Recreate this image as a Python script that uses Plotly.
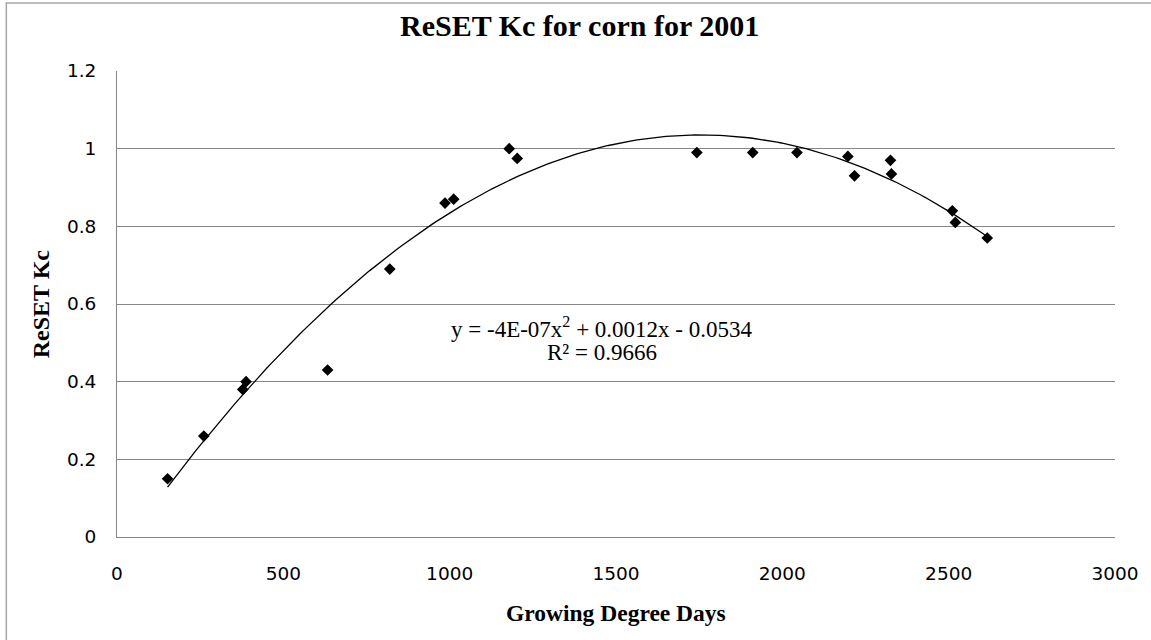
import numpy as np
import plotly.graph_objects as go

# Data
gdd = [152, 261, 378, 388, 633, 820, 986, 1012, 1179, 1203, 1743, 1911,
       2044, 2197, 2217, 2325, 2328, 2511, 2520, 2616]
kc = [0.15, 0.26, 0.38, 0.40, 0.43, 0.69, 0.86, 0.87, 1.00, 0.975, 0.99, 0.99,
      0.99, 0.98, 0.93, 0.97, 0.935, 0.84, 0.81, 0.77]

x_ticks = [0, 500, 1000, 1500, 2000, 2500, 3000]
y_ticks = [0, 0.2, 0.4, 0.6, 0.8, 1.0, 1.2]
y_tick_text = ["0", "0.2", "0.4", "0.6", "0.8", "1", "1.2"]

title_text = "ReSET Kc for corn for 2001"
x_title = "Growing Degree Days"
y_title = "ReSET Kc"
eq_line1 = "y = -4E-07x<sup>2</sup> + 0.0012x - 0.0534"
eq_line2 = "R² = 0.9666"

# Polynomial (order 2) trendline fitted to the data, as Excel does
coef = np.polyfit(gdd, kc, 2)
tx = np.linspace(min(gdd), max(gdd), 200)
ty = np.polyval(coef, tx)

GRID = "#868686"
SERIF = "Liberation Serif, Times New Roman, serif"
SANS = "DejaVu Sans, Verdana, sans-serif"

fig = go.Figure()
fig.add_trace(go.Scatter(x=tx, y=ty, mode="lines",
                         line=dict(color="black", width=1.3),
                         hoverinfo="skip", showlegend=False))
fig.add_trace(go.Scatter(x=gdd, y=kc, mode="markers",
                         marker=dict(symbol="diamond", size=9, color="black"),
                         showlegend=False))

L, R, T, B = 117, 33, 71, 103
W, H = 1151, 640
pw, ph = W - L - R, H - T - B

def px2paper_x(px):
    return (px - L) / pw

def px2paper_y(py):
    return (H - B - py) / ph

fig.update_layout(
    width=W, height=H,
    margin=dict(l=L, r=R, t=T, b=B),
    paper_bgcolor="white", plot_bgcolor="white",
    title=dict(text="<b>" + title_text + "</b>",
               font=dict(family=SERIF, size=30, color="black"),
               x=px2paper_x(581), xref="paper", xanchor="center",
               y=1 - 25 / H, yref="container", yanchor="middle"),
    xaxis=dict(range=[0, 3000], tickvals=x_ticks, showgrid=False,
               showline=True, linecolor=GRID, linewidth=1, zeroline=False,
               ticks="", ticklabelstandoff=20,
               tickfont=dict(family=SANS, size=18.5, color="black")),
    yaxis=dict(range=[0, 1.2], tickvals=y_ticks, ticktext=y_tick_text,
               showgrid=True, gridcolor=GRID, gridwidth=1,
               showline=True, linecolor=GRID, linewidth=1, zeroline=False,
               ticks="", ticklabelstandoff=16,
               tickfont=dict(family=SANS, size=18.5, color="black")),
    annotations=[
        dict(text="<b>" + x_title + "</b>", xref="paper", yref="paper",
             x=px2paper_x(617.5), y=px2paper_y(613), showarrow=False,
             xanchor="center", yanchor="middle",
             font=dict(family=SERIF, size=23.5, color="black")),
        dict(text="<b>" + y_title + "</b>", xref="paper", yref="paper",
             x=px2paper_x(41), y=px2paper_y(304), showarrow=False,
             textangle=-90, xanchor="center", yanchor="middle",
             font=dict(family=SERIF, size=24, color="black")),
        dict(text=eq_line1, xref="paper", yref="paper",
             x=px2paper_x(603), y=px2paper_y(327), showarrow=False,
             xanchor="center", yanchor="middle",
             font=dict(family=SERIF, size=23, color="black")),
        dict(text=eq_line2, xref="paper", yref="paper",
             x=px2paper_x(603), y=px2paper_y(352), showarrow=False,
             xanchor="center", yanchor="middle",
             font=dict(family=SERIF, size=23, color="black")),
    ],
    shapes=[
        dict(type="rect", xref="paper", yref="paper",
             x0=px2paper_x(6), y0=px2paper_y(660), x1=px2paper_x(1170), y1=px2paper_y(3),
             line=dict(color="#a6a6a6", width=1.5), fillcolor="rgba(0,0,0,0)",
             layer="below"),
    ],
)

fig.write_html("out.html")
